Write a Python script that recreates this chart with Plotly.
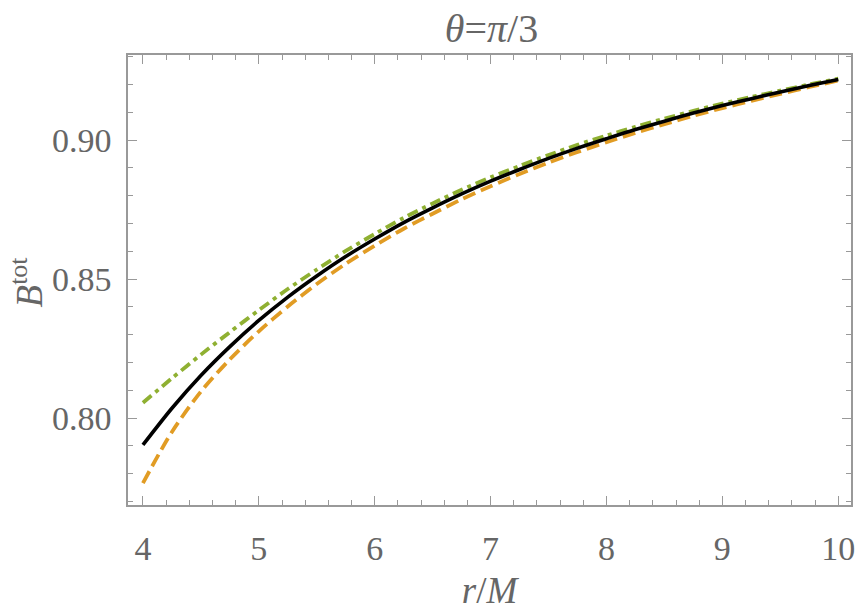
import plotly.graph_objects as go

r_vals = [4.00, 4.25, 4.50, 4.75, 5.00, 5.25, 5.50, 5.75, 6.00, 6.25, 6.50, 6.75, 7.00,
          7.25, 7.50, 7.75, 8.00, 8.25, 8.50, 8.75, 9.00, 9.25, 9.50, 9.75, 10.00]
b_black = [0.7903, 0.8035, 0.8153, 0.8257, 0.8351, 0.8435, 0.8511, 0.8581, 0.8644,
           0.8703, 0.8756, 0.8806, 0.8852, 0.8894, 0.8934, 0.8971, 0.9005, 0.9038,
           0.9068, 0.9097, 0.9124, 0.9149, 0.9173, 0.9196, 0.9218]
b_green = [0.8055, 0.8143, 0.8228, 0.8309, 0.8388, 0.8464, 0.8534, 0.8601, 0.8662,
           0.8720, 0.8772, 0.8821, 0.8866, 0.8907, 0.8946, 0.8983, 0.9016, 0.9048,
           0.9077, 0.9105, 0.9131, 0.9155, 0.9178, 0.9200, 0.9221]
b_orange = [0.7766, 0.7950, 0.8095, 0.8211, 0.8312, 0.8401, 0.8482, 0.8555, 0.8620,
            0.8681, 0.8735, 0.8787, 0.8834, 0.8878, 0.8919, 0.8957, 0.8992, 0.9026,
            0.9057, 0.9087, 0.9115, 0.9141, 0.9166, 0.9191, 0.9214]

x_ticks = [4, 5, 6, 7, 8, 9, 10]
y_ticks = [0.80, 0.85, 0.90]
y_ticklabels = ["0.80", "0.85", "0.90"]

fig = go.Figure()
fig.add_trace(go.Scatter(x=r_vals, y=b_orange, mode="lines",
                         line=dict(color="#E19C24", width=3.8, dash="13px,6px", shape="spline",
                                   smoothing=0.8),
                         showlegend=False))
fig.add_trace(go.Scatter(x=r_vals, y=b_green, mode="lines",
                         line=dict(color="#8FB032", width=3.8, dash="11px,5px,4px,5px", shape="spline",
                                   smoothing=0.8),
                         showlegend=False))
fig.add_trace(go.Scatter(x=r_vals, y=b_black, mode="lines",
                         line=dict(color="black", width=3.6, shape="spline", smoothing=0.8),
                         showlegend=False))

axis_common = dict(showline=True, linecolor="#999999", linewidth=1.5, mirror="ticks",
                   ticks="inside", tickcolor="#999999", tickwidth=1.2, ticklen=9,
                   showgrid=False, zeroline=False,
                   tickfont=dict(family="Liberation Serif", size=34, color="#666666"))

fig.update_xaxes(range=[3.871, 10.11], tickvals=x_ticks,
                 minor=dict(dtick=0.2, tick0=4, ticks="inside", ticklen=5,
                            tickcolor="#999999", tickwidth=1, showgrid=False),
                 title=dict(text="<i>r</i>/<i>M</i>",
                            font=dict(family="Liberation Serif", size=37, color="#666666"),
                            standoff=12),
                 ticklabelstandoff=12,
                 **axis_common)
fig.update_yaxes(range=[0.7687, 0.9306], tickvals=y_ticks, ticktext=y_ticklabels,
                 minor=dict(dtick=0.01, tick0=0.8, ticks="inside", ticklen=5,
                            tickcolor="#999999", tickwidth=1, showgrid=False),
                 ticklabelstandoff=8,
                 **axis_common)

fig.add_annotation(text="<i>B</i><sup>tot</sup>", xref="paper", yref="paper",
                   x=-0.139, y=0.4956, xanchor="center", yanchor="middle",
                   textangle=-90, showarrow=False, borderpad=0,
                   font=dict(family="Liberation Serif", size=37, color="#666666"))

fig.update_layout(
    width=863, height=615,
    margin=dict(l=128, r=8, t=55, b=110),
    plot_bgcolor="white", paper_bgcolor="white",
    title=dict(text="<i>θ</i>=<i>π</i>/3", x=0.5695, xanchor="center",
               y=0.955, yanchor="middle",
               font=dict(family="Liberation Serif", size=40, color="#666666")),
)

fig.write_html("out.html")
